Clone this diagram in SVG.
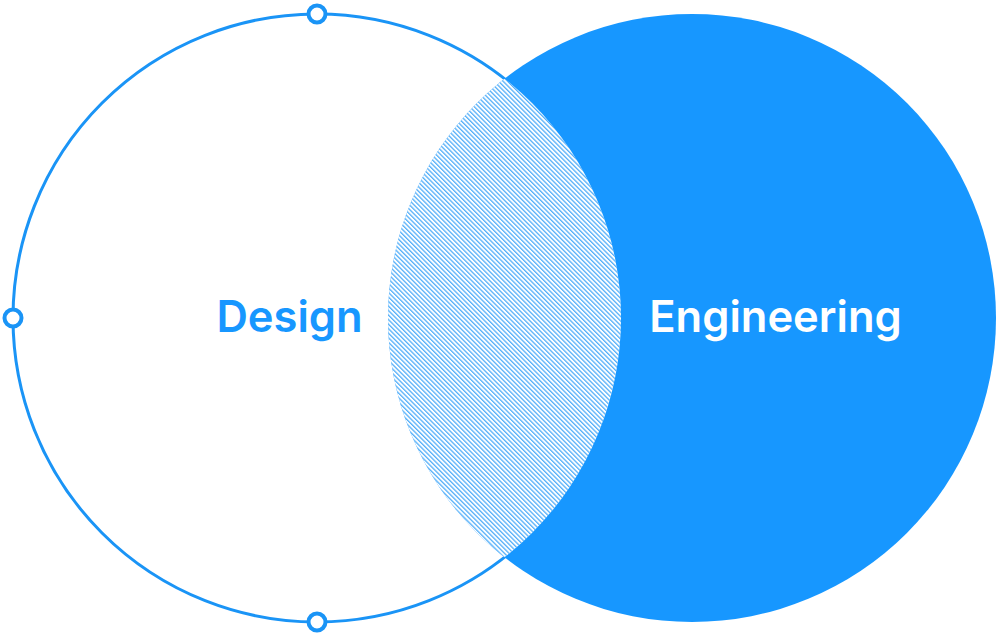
<svg xmlns="http://www.w3.org/2000/svg" width="1006" height="634" viewBox="0 0 1006 634">
  <style>
    .label { font-family: Inter, "Liberation Sans", sans-serif; font-weight: 600; font-size: 43.5px; text-anchor: middle; }
    .marker { fill: #ffffff; stroke: #1a94f6; stroke-width: 4; }
  </style>
  <defs>
    <pattern id="hatch" patternUnits="userSpaceOnUse" width="3.2" height="3.2" patternTransform="rotate(-45)">
      <rect x="0" y="0" width="1.3" height="3.2" fill="#1a94f6" fill-opacity="0.75"/>
    </pattern>
    <clipPath id="leftClip">
      <circle cx="317" cy="318" r="304"/>
    </clipPath>
  </defs>
  <rect width="1006" height="634" fill="#ffffff"/>
  <g id="design">
    <circle cx="317" cy="318" r="304" fill="none" stroke="#1a94f6" stroke-width="3"/>
  </g>
  <g id="engineering">
    <circle cx="692" cy="318" r="304" fill="#1797ff"/>
  </g>
  <g id="overlap">
    <circle cx="692" cy="318" r="304" fill="#ffffff" clip-path="url(#leftClip)"/>
    <circle cx="692" cy="318" r="304" fill="url(#hatch)" clip-path="url(#leftClip)"/>
  </g>
  <g id="handles">
    <circle class="marker" cx="317" cy="14" r="8.5"/>
    <circle class="marker" cx="13" cy="318" r="8.5"/>
    <circle class="marker" cx="317" cy="622" r="8.5"/>
  </g>
  <g id="labels">
    <text class="label" x="289.5" y="332" fill="#1797ff">Design</text>
    <text class="label" x="775.5" y="332" fill="#ffffff">Engineering</text>
  </g>
</svg>
